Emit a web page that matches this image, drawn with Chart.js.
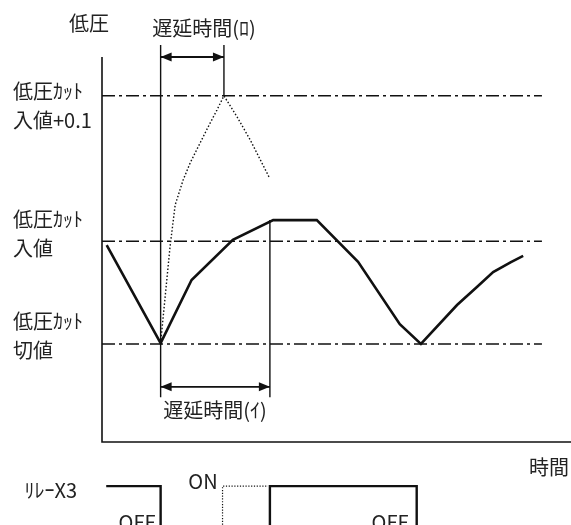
<!DOCTYPE html>
<html>
<head>
<meta charset="utf-8">
<script src="https://cdn.jsdelivr.net/npm/chart.js@4"></script>
<style>
  html, body { margin: 0; padding: 0; background: #fff; }
  canvas { display: block; }
</style>
</head>
<body>
<canvas id="chart" width="571" height="525"></canvas>
<script>
// time axis 0..100, pressure axis 0 = time axis line
const pressureT = [1.0, 12.5, 19.1, 27.9, 36.5, 45.8, 54.6, 63.5, 68.0, 75.7, 80.0, 83.4, 87.2, 89.8];
const pressureV = [49.6, 24.9, 40.8, 50.9, 55.9, 55.9, 45.4, 29.7, 24.7, 34.5, 39.1, 42.8, 45.3, 46.9];

// dotted rise after the cut (delay ロ)
const riseT = [12.5, 13.4, 14.5, 15.6, 17.3, 18.8, 20.9, 22.6, 24.5, 26.0, 28.8, 31.6, 35.6];
const riseV = [24.9, 35.8, 49.1, 59.7, 66.0, 70.3, 75.3, 79.3, 83.6, 87.2, 81.9, 76.1, 66.8];

// reference levels: 入値+0.1, 入値, 切値
const levelValues = [87.2, 50.6, 24.7];
const levelEnd = 93.8;

// delay markers
const delayStart = 12.5;
const delayRoEnd = 26.0;
const delayIEnd = 35.8;
const arrowRoLevel = 97.0;
const arrowILevel = 13.9;
const markerBottom = 11.3;

// relay X3 trace
const relayOn = -11.1;
const relayFloor = -30;
const relayFirstT = [0.9, 12.5, 12.5];
const relayFirstV = [relayOn, relayOn, relayFloor];
const relayDottedT = [25.7, 25.7, 35.4];
const relayDottedV = [relayFloor, relayOn, relayOn];
const relaySecondT = [35.8, 35.8, 67.1, 67.1];
const relaySecondV = [relayFloor, relayOn, relayOn, relayFloor];

const INK = "#111";
const FONT = '"Noto Sans CJK JP", "Noto Sans", sans-serif';

function pts(xs, ys) {
  return xs.map((x, i) => ({ x, y: ys[i] }));
}

function line(data, extra = {}) {
  return {
    data,
    showLine: true,
    borderColor: INK,
    borderWidth: 1.4,
    pointRadius: 0,
    fill: false,
    tension: 0,
    ...extra,
  };
}

const datasets = [];

// dash-dot reference levels
levelValues.forEach((v) => {
  datasets.push(line(pts([0, levelEnd], [v, v]), { borderDash: [13, 4, 3, 4], borderWidth: 1.5 }));
});

// vertical markers
datasets.push(line(pts([delayStart, delayStart], [100, markerBottom])));
datasets.push(line(pts([delayRoEnd, delayRoEnd], [100, levelValues[0]])));
datasets.push(line(pts([delayIEnd, delayIEnd], [pressureV[4], markerBottom])));

// arrows
const arrowRo = line(pts([delayStart, delayRoEnd], [arrowRoLevel, arrowRoLevel]), { borderWidth: 2, arrow: true });
const arrowI = line(pts([delayStart, delayIEnd], [arrowILevel, arrowILevel]), { borderWidth: 1.6, arrow: true });
datasets.push(arrowRo, arrowI);

// pressure curves
datasets.push(line(pts(riseT, riseV), { borderDash: [1.5, 2], borderWidth: 1.4 }));
datasets.push(line(pts(pressureT, pressureV), { borderWidth: 2.6 }));

// relay
datasets.push(line(pts(relayFirstT, relayFirstV), { borderWidth: 2.4 }));
datasets.push(line(pts(relayDottedT, relayDottedV), { borderDash: [1.2, 1.6], borderWidth: 1.2 }));
datasets.push(line(pts(relaySecondT, relaySecondV), { borderWidth: 2.4 }));

const decorations = {
  id: "decorations",
  beforeDatasetsDraw(chart) {
    const { ctx, scales: { x, y } } = chart;
    ctx.save();
    ctx.strokeStyle = INK;
    ctx.lineWidth = 1.6;
    ctx.beginPath();
    ctx.moveTo(x.getPixelForValue(0), y.getPixelForValue(arrowRoLevel));
    ctx.lineTo(x.getPixelForValue(0), y.getPixelForValue(0));
    ctx.lineTo(x.getPixelForValue(100), y.getPixelForValue(0));
    ctx.stroke();
    ctx.restore();
  },
  afterDatasetsDraw(chart) {
    const { ctx } = chart;
    ctx.save();
    ctx.fillStyle = INK;
    // arrow heads
    chart.data.datasets.forEach((ds, i) => {
      if (!ds.arrow) return;
      const pts = chart.getDatasetMeta(i).data;
      const a = pts[0], b = pts[pts.length - 1];
      const len = 11, half = 4.5;
      ctx.beginPath();
      ctx.moveTo(a.x, a.y);
      ctx.lineTo(a.x + len, a.y - half);
      ctx.lineTo(a.x + len, a.y + half);
      ctx.closePath();
      ctx.fill();
      ctx.beginPath();
      ctx.moveTo(b.x, b.y);
      ctx.lineTo(b.x - len, b.y - half);
      ctx.lineTo(b.x - len, b.y + half);
      ctx.closePath();
      ctx.fill();
    });

    // texts
    ctx.fillStyle = "#222";
    ctx.font = "20px " + FONT;
    ctx.textBaseline = "middle";
    ctx.textAlign = "center";
    ctx.fillText("低圧", 89, 23);
    ctx.fillText("遅延時間(ﾛ)", 204, 28);
    ctx.fillText("遅延時間(ｲ)", 215, 410);
    ctx.fillText("時間", 549, 467);
    ctx.fillText("ON", 203, 481);
    ctx.fillText("OFF", 137, 522);
    ctx.fillText("OFF", 390, 522);

    ctx.textAlign = "left";
    ctx.fillText("低圧ｶｯﾄ", 13, 91);
    ctx.fillText("入値+0.1", 13, 120);
    ctx.fillText("低圧ｶｯﾄ", 13, 219);
    ctx.fillText("入値", 13, 248);
    ctx.fillText("低圧ｶｯﾄ", 13, 321);
    ctx.fillText("切値", 13, 350);

    ctx.textAlign = "right";
    ctx.fillText("ﾘﾚｰX3", 77, 490);
    ctx.restore();
  },
};

new Chart(document.getElementById("chart"), {
  type: "scatter",
  data: { datasets },
  options: {
    responsive: false,
    animation: false,
    devicePixelRatio: 1,
    layout: { padding: { left: 102, top: 45, right: 0, bottom: 0 } },
    plugins: { legend: { display: false }, tooltip: { enabled: false } },
    scales: {
      x: { type: "linear", min: 0, max: 100, display: false },
      y: { type: "linear", min: -20.9, max: 100, display: false },
    },
  },
  plugins: [decorations],
});
</script>
</body>
</html>
